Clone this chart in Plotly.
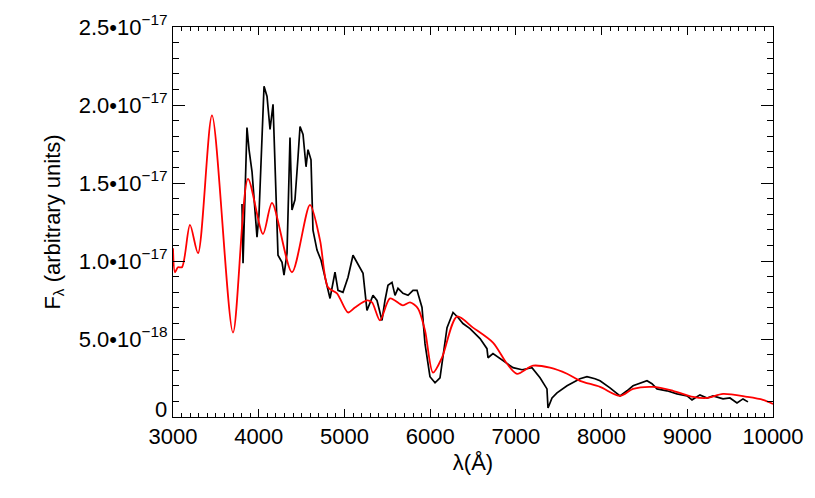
import plotly.graph_objects as go

# model spectrum (red), wavelength in Angstrom, flux in units of 1e-17
model_wave = [3000, 3023, 3058, 3105, 3198, 3292, 3455, 3700, 3875, 4050,
              4155, 4388, 4598, 4715, 4808, 4913, 5042, 5123, 5263, 5322,
              5415, 5532, 5683, 5765, 5858, 5940, 6033, 6138, 6313, 6500,
              6733, 6897, 7013, 7200, 7398, 7597, 7748, 7982, 8215, 8367,
              8600, 8833, 9067, 9230, 9417, 9697, 9883, 10000]
model_flux = [1.082, 0.928, 0.960, 0.960, 1.231, 1.050, 1.933, 0.541, 1.527, 1.173,
              1.372, 0.928, 1.360, 1.134, 0.831, 0.793, 0.670, 0.702, 0.747, 0.735,
              0.619, 0.760, 0.715, 0.735, 0.696, 0.554, 0.284, 0.380, 0.644, 0.573,
              0.477, 0.341, 0.277, 0.329, 0.316, 0.277, 0.232, 0.193, 0.135, 0.180,
              0.193, 0.168, 0.129, 0.122, 0.148, 0.129, 0.110, 0.084]

# observed spectrum (black)
obs_wave = [3805, 3817, 3863, 3887, 3922, 3945, 3980, 4003, 4038, 4062,
            4097, 4132, 4167, 4202, 4225, 4272, 4295, 4330, 4365, 4388,
            4423, 4458, 4482, 4517, 4552, 4575, 4610, 4633, 4680, 4727,
            4773, 4832, 4890, 4925, 4983, 5042, 5100, 5147, 5182, 5217,
            5263, 5298, 5333, 5380, 5438, 5473, 5508, 5555, 5590, 5625,
            5683, 5742, 5800, 5847, 5882, 5905, 5940, 5998, 6057, 6115,
            6197, 6267, 6325, 6383, 6465, 6582, 6663, 6675, 6733, 6850,
            6967, 7072, 7188, 7282, 7363, 7375, 7422, 7480, 7597, 7748,
            7830, 7923, 7982, 8098, 8215, 8297, 8367, 8530, 8588, 8647,
            8763, 8880, 8997, 9055, 9148, 9230, 9300, 9417, 9498, 9580,
            9650, 9708]
obs_flux = [1.366, 0.986, 1.856, 1.714, 1.572, 1.411, 1.153, 1.295, 1.843, 2.120,
            2.055, 1.843, 2.004, 1.392, 1.037, 0.992, 0.909, 1.050, 1.791, 1.327,
            1.392, 1.662, 1.862, 1.811, 1.604, 1.714, 1.649, 1.198, 1.070, 1.005,
            0.889, 0.760, 0.928, 0.812, 0.799, 0.896, 1.037, 0.992, 0.960, 0.921,
            0.683, 0.735, 0.780, 0.747, 0.619, 0.747, 0.844, 0.863, 0.780, 0.825,
            0.793, 0.780, 0.812, 0.812, 0.747, 0.702, 0.470, 0.258, 0.219, 0.251,
            0.573, 0.670, 0.638, 0.599, 0.567, 0.503, 0.438, 0.380, 0.406, 0.361,
            0.316, 0.303, 0.316, 0.251, 0.180, 0.058, 0.122, 0.155, 0.200, 0.245,
            0.258, 0.245, 0.232, 0.187, 0.135, 0.168, 0.200, 0.232, 0.213, 0.180,
            0.168, 0.148, 0.135, 0.110, 0.142, 0.122, 0.135, 0.116, 0.122, 0.090,
            0.116, 0.097]

y_tickvals = [0.5e-17, 1.0e-17, 1.5e-17, 2.0e-17, 2.5e-17]
y_ticktext = ["5.0•10<sup>−18</sup>", "1.0•10<sup>−17</sup>",
              "1.5•10<sup>−17</sup>", "2.0•10<sup>−17</sup>", "2.5•10<sup>−17</sup>"]

fig = go.Figure()
fig.add_trace(go.Scatter(
    x=obs_wave, y=[f * 1e-17 for f in obs_flux],
    mode='lines', line=dict(color='black', width=1.7),
    showlegend=False
))
fig.add_trace(go.Scatter(
    x=model_wave, y=[f * 1e-17 for f in model_flux],
    mode='lines', line=dict(color='#ff0000', width=1.8, shape='spline', smoothing=0.8),
    showlegend=False
))

axis_common = dict(
    showgrid=False, zeroline=False,
    showline=True, linecolor='black', linewidth=1,
    mirror='allticks', ticks='inside', tickcolor='black',
    tickfont=dict(size=22, color='black'),
)

fig.update_xaxes(
    range=[3000, 10000], dtick=1000, tickformat='d', ticklen=8, tickwidth=1,
    title=dict(text='λ(Å)', font=dict(size=22, color='black'), standoff=6),
    minor=dict(ticks='inside', dtick=100, ticklen=4, tickcolor='black', showgrid=False),
    **axis_common
)
fig.update_yaxes(
    range=[0, 2.5e-17], tickvals=[0] + y_tickvals, ticktext=[""] + y_ticktext,
    ticklen=12, tickwidth=1,
    title=dict(text='F<sub>λ</sub> (arbitrary units)', font=dict(size=22, color='black'), standoff=12),
    minor=dict(ticks='inside', tickvals=[i * 1e-18 for i in range(26)],
               ticklen=6, tickcolor='black', showgrid=False),
    **axis_common
)

# zero label sits a little above the corner, as in the original
fig.add_annotation(
    x=0, xref='paper', xanchor='right', xshift=-4,
    y=0, yref='y', yanchor='middle', yshift=8,
    text='0', showarrow=False, font=dict(size=22, color='black')
)

# the page body adds an 8px offset, so margins are shifted to keep the frame in place
fig.update_layout(
    width=815, height=498,
    margin=dict(l=165, r=50, t=19, b=89, autoexpand=False),
    paper_bgcolor='white', plot_bgcolor='white',
    font=dict(family='Liberation Sans, Arial, sans-serif', color='black'),
)

fig.write_html("out.html")
